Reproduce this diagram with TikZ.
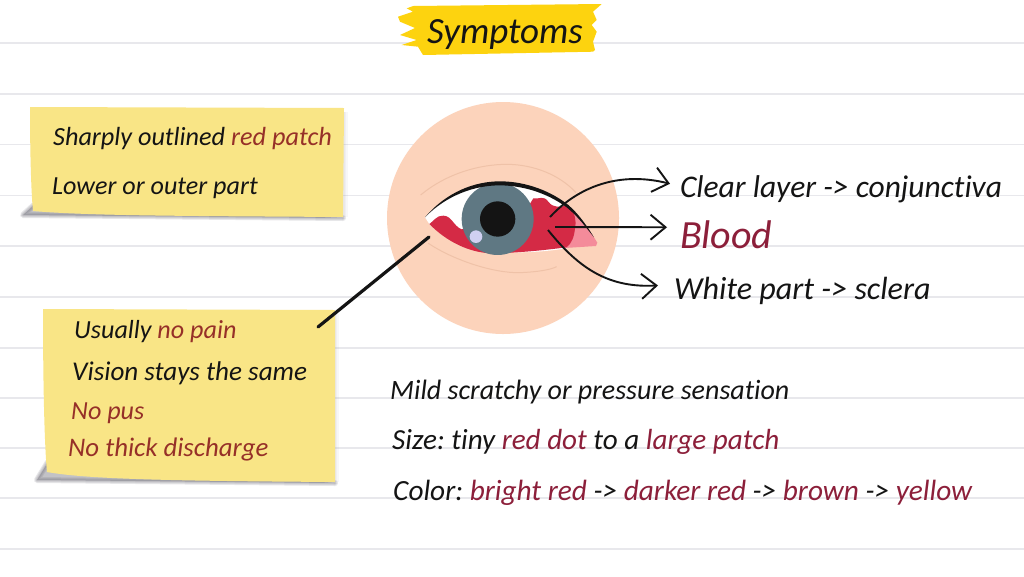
\documentclass[tikz,border=0pt]{standalone}
\usepackage{fontspec}
\usetikzlibrary{arrows.meta}
\newfontfamily\handfont[ItalicFont=Carlito Italic,Ligatures=NoCommon]{Carlito}
\definecolor{ruleline}{HTML}{E8E8EC}
\definecolor{notefill}{HTML}{F9E586}
\definecolor{noteshade}{HTML}{6F6C78}
\definecolor{noteink}{HTML}{963028}
\definecolor{wine}{HTML}{8C1F3A}
\definecolor{ink}{HTML}{141414}
\definecolor{swash}{HTML}{FDD30F}
\definecolor{skin}{HTML}{FCD3BB}
\definecolor{crease}{HTML}{EFC2A8}
\definecolor{bloodred}{HTML}{D42A45}
\definecolor{bloodpale}{HTML}{F48B9A}
\definecolor{irisgrey}{HTML}{5F7883}
\tikzset{
  x=1pt, y=-1pt,
  rule/.style={ruleline, line width=1.6pt},
  textline/.style={anchor=base west, inner sep=0pt, text=ink, font=\handfont\itshape\frenchspacing\fontsize{#1}{#1}\selectfont},
  pointer/.style={ink, line width=1.9pt, -{Straight Barb[length=15pt,width=25pt,line width=1.9pt]}},
  tiptext/.style={textline=#1, outer xsep=10pt},
  leader/.style={ink, line width=3.2pt, line cap=round},
  eyepx/.style={shift={(380,120)}, x=0.3333pt, y=-0.3333pt},
  softedge/.style={noteshade, opacity=.05, line width=#1, line join=round},
  softdrop/.style={noteshade, opacity=.16, line width=#1, fill=noteshade, line join=round},
}
\newcommand{\rd}[1]{\textcolor{noteink}{#1}}
\newcommand{\wn}[1]{\textcolor{wine}{#1}}
\begin{document}
\begin{tikzpicture}
\useasboundingbox (0,0) rectangle (1024,576);
\fill[white] (0,0) rectangle (1024,576);

% ruled notebook lines
\foreach \yy in {43,94,144.5,195.5,246,297,348,398,448,498,549}
  \draw[rule] (0,\yy) -- (1024,\yy);

% title brush stroke
\fill[swash] (413.3,6) -- (601.7,4) -- (593,11.7) -- (596.7,20) -- (591.7,25) -- (596.7,31.7) -- (593,41.7) -- (595,50) -- (593,51.7)
  -- (423,55) -- (418,46.7) -- (401.7,45) -- (416.7,40) -- (400,35) -- (415,28) -- (400,21.7) -- (398,16.7) -- (413,11.7) -- (406.7,8.3) -- cycle;
\node[textline=37] (title) at (427,43) {Symptoms};

% sticky note, upper
\foreach \w in {7pt,4pt,2pt}
  \draw[softedge=\w] (344,112) -- (344,217);
\foreach \w in {6pt,4pt,2pt}
  \draw[softdrop=\w] (34,205) -- (23,215) -- (343,218) -- cycle;
\fill[notefill] (30,107) -- (344,108) -- (343,217) .. controls (200,216) and (90,216) .. (33,211) .. controls (31,190) and (30,150) .. cycle;
\node[textline=26.2] (upperone) at (53,145) {Sharply outlined \rd{red patch}};
\node[textline=26.1] (uppertwo) at (52,194) {Lower or outer part};

% sticky note, lower
\foreach \w in {7pt,4pt,2pt}
  \draw[softedge=\w] (335,314) -- (335,482);
\foreach \w in {6pt,4pt,2pt}
  \draw[softdrop=\w] (48,462) -- (37,480) -- (335,483) -- cycle;
\fill[notefill] (43,309) -- (335,310) -- (335,482) .. controls (200,481) and (90,480) .. (47,472) .. controls (44,440) and (43,370) .. cycle;
\node[textline=26.1] (lowerone) at (74,338) {Usually \rd{no pain}};
\node[textline=27.1] (lowertwo) at (72,380) {Vision stays the same};
\node[textline=26.1] (lowerthree) at (71,419) {\rd{No pus}};
\node[textline=26.8] (lowerfour) at (68,456) {\rd{No thick discharge}};

% eye
\fill[skin] (503,218) circle (116);
\begin{scope}[eyepx]
  \draw[crease, line width=1pt] (122,225) .. controls (200,160) and (300,133) .. (380,133) .. controls (460,133) and (540,165) .. (588,218);
  \draw[crease, line width=1pt] (145,370) .. controls (220,420) and (340,460) .. (420,458) .. controls (470,456) and (510,450) .. (530,440);
  \fill[white] (135,292) .. controls (200,220) and (280,190) .. (360,190) .. controls (440,190) and (520,220) .. (600,300)
     -- (560,385) .. controls (400,410) and (240,400) .. (148,312) -- cycle;
  \fill[bloodpale] (565,262) -- (625,325) -- (652,368) -- (648,378) -- (555,384) -- cycle;
  \fill[bloodred] (148,312) .. controls (160,305) and (170,285) .. (190,287) .. controls (215,287) and (220,318) .. (245,328)
     -- (420,300) -- (460,235) .. controls (480,238) and (490,225) .. (505,245) .. controls (520,265) and (540,262) .. (565,255)
     .. controls (585,280) and (590,300) .. (585,325) .. controls (583,350) and (575,370) .. (560,382)
     .. controls (480,392) and (420,398) .. (340,400) .. controls (270,400) and (200,365) .. cycle;
  \fill[irisgrey] (353,297) circle (108);
  \fill[black!92] (353,297) circle (53);
  \fill[white!85!blue!90!gray] (288,350) circle (19);
  \fill[black!92] (135,292) .. controls (200,215) and (285,184) .. (360,184) .. controls (440,184) and (515,215) .. (565,255)
     .. controls (600,285) and (625,325) .. (642,352)
     .. controls (620,325) and (595,290) .. (560,262) .. controls (510,225) and (440,197) .. (360,196) .. controls (285,196) and (200,225) .. cycle;
\end{scope}

% labels of the eye layers
\node[tiptext=31.5] (clear) at (670,197) {Clear layer -> conjunctiva};
\node[tiptext=40] (blood) at (670,248) {\wn{Blood}};
\node[tiptext=32.1] (white) at (664,299) {White part -> sclera};

\coordinate (layerclear) at (550,217);
\coordinate (layerblood) at (555,227);
\coordinate (layerwhite) at (548,230);
\draw[pointer] (layerclear) .. controls (575,190) and (615,170) .. ([yshift=5]clear.west);
\draw[pointer] (layerblood) -- ([xshift=-3,yshift=7]blood.west);
\draw[pointer] (layerwhite) .. controls (580,270) and (610,288) .. ([xshift=-6,yshift=5]white.west);

% leader from the lower note to the eye corner
\coordinate (noteanchor) at (318,327);
\coordinate (eyecorner) at (429,237);
\draw[leader] (noteanchor) -- (eyecorner);

% free-standing lines
\node[textline=28] (mild) at (390,399) {Mild scratchy or pressure sensation};
\node[textline=29.1] (size) at (392,449) {Size: tiny \wn{red dot} to a \wn{large patch}};
\node[textline=29.3] (color) at (393,500) {Color: \wn{bright red} -> \wn{darker red} -> \wn{brown} -> \wn{yellow}};
\end{tikzpicture}
\end{document}
